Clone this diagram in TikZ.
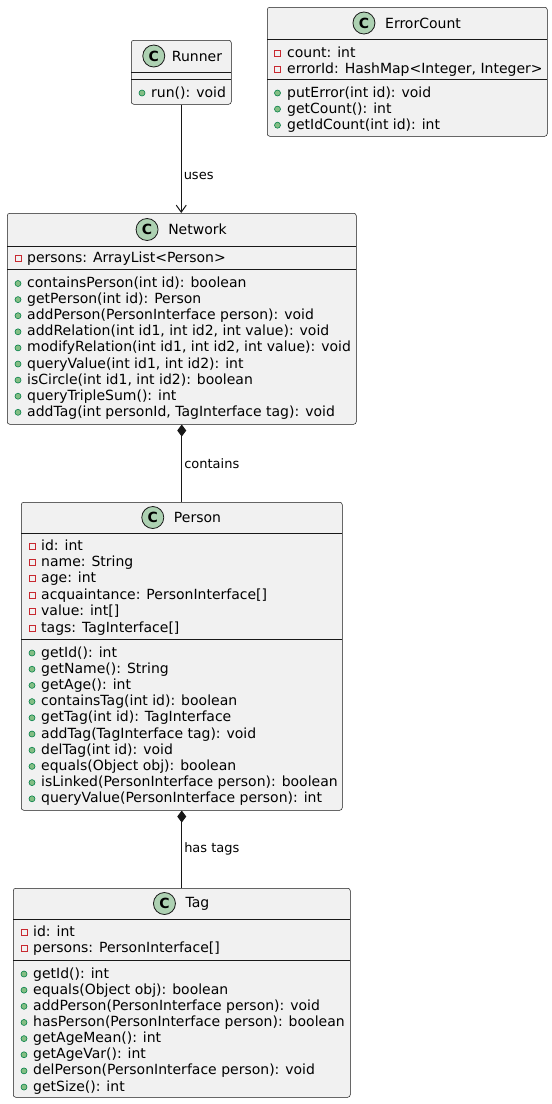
\documentclass[tikz,border=0pt]{standalone}
\usepackage{fontspec}
\setmainfont{DejaVu Sans}
\usetikzlibrary{arrows.meta}
\definecolor{boxfill}{HTML}{F1F1F1}
\definecolor{boxline}{HTML}{181818}
\definecolor{badgefill}{HTML}{ADD1B2}
\definecolor{privred}{HTML}{C82930}
\definecolor{pubfill}{HTML}{84BE84}
\definecolor{publine}{HTML}{038048}
\tikzset{
  classbox/.style={draw=boxline, fill=boxfill, line width=0.5pt, rounded corners=2.5pt, anchor=north west, inner sep=0pt},
  sepline/.style={draw=boxline, line width=0.5pt},
  cname/.style={inner sep=0pt, font=\fontsize{14}{16}\selectfont},
  badge/.style={circle, draw=boxline, fill=badgefill, line width=0.8pt, minimum size=22pt, inner sep=0pt, font=\fontsize{14}{16}\selectfont\bfseries},
  member/.style={anchor=base west, inner sep=0pt, font=\fontsize{14}{16}\selectfont},
  privicon/.style={rectangle, draw=privred, line width=0.8pt, minimum size=6pt, inner sep=0pt},
  pubicon/.style={circle, draw=publine, fill=pubfill, line width=0.6pt, minimum size=6pt, inner sep=0pt},
  conn/.style={draw=boxline, line width=1pt},
  lbl/.style={anchor=west, inner sep=0pt, xshift=2pt, font=\fontsize{13}{15}\selectfont},
}
\begin{document}
\begin{tikzpicture}[x=1pt, y=-1pt]
\useasboundingbox (0,0) rectangle (552,1104);

% ---------- Runner ----------
\node[classbox, minimum width=100pt, minimum height=64pt] (runner) at (131,40) {};
\draw[sepline] (131,72) -- (231,72);
\draw[sepline] (131,79) -- (231,79);
\node[cname] (runner-name) at (197,56) {Runner};
\node[badge] (runner-badge) at ([xshift=-18pt]runner-name.west) {C};
\node[pubicon] (runner-mi0) at (142,93) {};
\node[member] (runner-m0) at (151,97) {run(): void};

% ---------- ErrorCount ----------
\node[classbox, minimum width=280pt, minimum height=129pt] (errorcount) at (267,7) {};
\draw[sepline] (267,39) -- (547,39);
\draw[sepline] (267,79) -- (547,79);
\node[cname] (ec-name) at (423,23) {ErrorCount};
\node[badge] (ec-badge) at ([xshift=-21pt]ec-name.west) {C};
\foreach \t [count=\i from 0] in {count: int, {errorId: HashMap<Integer, Integer>}} {
  \node[privicon] (ec-ai\i) at (277.5,57+\i*16.2-4) {};
  \node[member] (ec-a\i) at (287,57+\i*16.2) {\t};
}
\foreach \t [count=\i from 0] in {putError(int id): void, getCount(): int, getIdCount(int id): int} {
  \node[pubicon] (ec-mi\i) at (277.5,97+\i*16.1-4) {};
  \node[member] (ec-m\i) at (287,97+\i*16.1) {\t};
}

% ---------- Network ----------
\node[classbox, minimum width=349pt, minimum height=211pt] (network) at (7,213) {};
\draw[sepline] (7,246) -- (356,246);
\draw[sepline] (7,269) -- (356,269);
\node[cname] (net-name) at (197.5,229.5) {Network};
\node[badge] (net-badge) at ([xshift=-21pt]net-name.west) {C};
\node[privicon] (net-ai0) at (18,258.5) {};
\node[member] (net-a0) at (27,262.5) {persons: ArrayList<Person>};
\foreach \t [count=\i from 0] in {
  containsPerson(int id): boolean,
  getPerson(int id): Person,
  addPerson(PersonInterface person): void,
  {addRelation(int id1, int id2, int value): void},
  {modifyRelation(int id1, int id2, int value): void},
  {queryValue(int id1, int id2): int},
  {isCircle(int id1, int id2): boolean},
  queryTripleSum(): int,
  {addTag(int personId, TagInterface tag): void}} {
  \node[pubicon] (net-mi\i) at (18,287.5+\i*16.1-4) {};
  \node[member] (net-m\i) at (27,287.5+\i*16.1) {\t};
}

% ---------- Person ----------
\node[classbox, minimum width=321pt, minimum height=308pt] (person) at (21,502) {};
\draw[sepline] (21,533) -- (342,533);
\draw[sepline] (21,639) -- (342,639);
\node[cname] (per-name) at (197.5,517.5) {Person};
\node[badge] (per-badge) at ([xshift=-21pt]per-name.west) {C};
\foreach \t [count=\i from 0] in {
  id: int,
  name: String,
  age: int,
  acquaintance: PersonInterface[],
  value: int[],
  tags: TagInterface[]} {
  \node[privicon] (per-ai\i) at (32,550+\i*16.4-4) {};
  \node[member] (per-a\i) at (41,550+\i*16.4) {\t};
}
\foreach \t [count=\i from 0] in {
  getId(): int,
  getName(): String,
  getAge(): int,
  containsTag(int id): boolean,
  getTag(int id): TagInterface,
  addTag(TagInterface tag): void,
  delTag(int id): void,
  equals(Object obj): boolean,
  isLinked(PersonInterface person): boolean,
  queryValue(PersonInterface person): int} {
  \node[pubicon] (per-mi\i) at (32,657+\i*16.2-4) {};
  \node[member] (per-m\i) at (41,657+\i*16.2) {\t};
}

% ---------- Tag ----------
\node[classbox, minimum width=337pt, minimum height=209pt] (tag) at (13,888) {};
\draw[sepline] (13,919) -- (350,919);
\draw[sepline] (13,960) -- (350,960);
\node[cname] (tag-name) at (197.5,903.5) {Tag};
\node[badge] (tag-badge) at ([xshift=-21pt]tag-name.west) {C};
\foreach \t [count=\i from 0] in {id: int, persons: PersonInterface[]} {
  \node[privicon] (tag-ai\i) at (24,936+\i*16.3-4) {};
  \node[member] (tag-a\i) at (33,936+\i*16.3) {\t};
}
\foreach \t [count=\i from 0] in {
  getId(): int,
  equals(Object obj): boolean,
  addPerson(PersonInterface person): void,
  hasPerson(PersonInterface person): boolean,
  getAgeMean(): int,
  getAgeVar(): int,
  delPerson(PersonInterface person): void,
  getSize(): int} {
  \node[pubicon] (tag-mi\i) at (24,978+\i*16.15-4) {};
  \node[member] (tag-m\i) at (33,978+\i*16.15) {\t};
}

% ---------- Connectors ----------
\draw[conn, -{Straight Barb[length=7pt, width=10pt, line width=1pt]}] (runner.south) -- (runner.south |- network.north)
  node[lbl, pos=0.66] (uses-lbl) {uses};
\draw[conn, {Diamond[length=12pt, width=9pt]}-] (network.south) -- (person.north)
  node[lbl, pos=0.5] (contains-lbl) {contains};
\draw[conn, {Diamond[length=12pt, width=9pt]}-] (person.south) -- (tag.north)
  node[lbl, pos=0.5] (hastags-lbl) {has tags};
\end{tikzpicture}
\end{document}
